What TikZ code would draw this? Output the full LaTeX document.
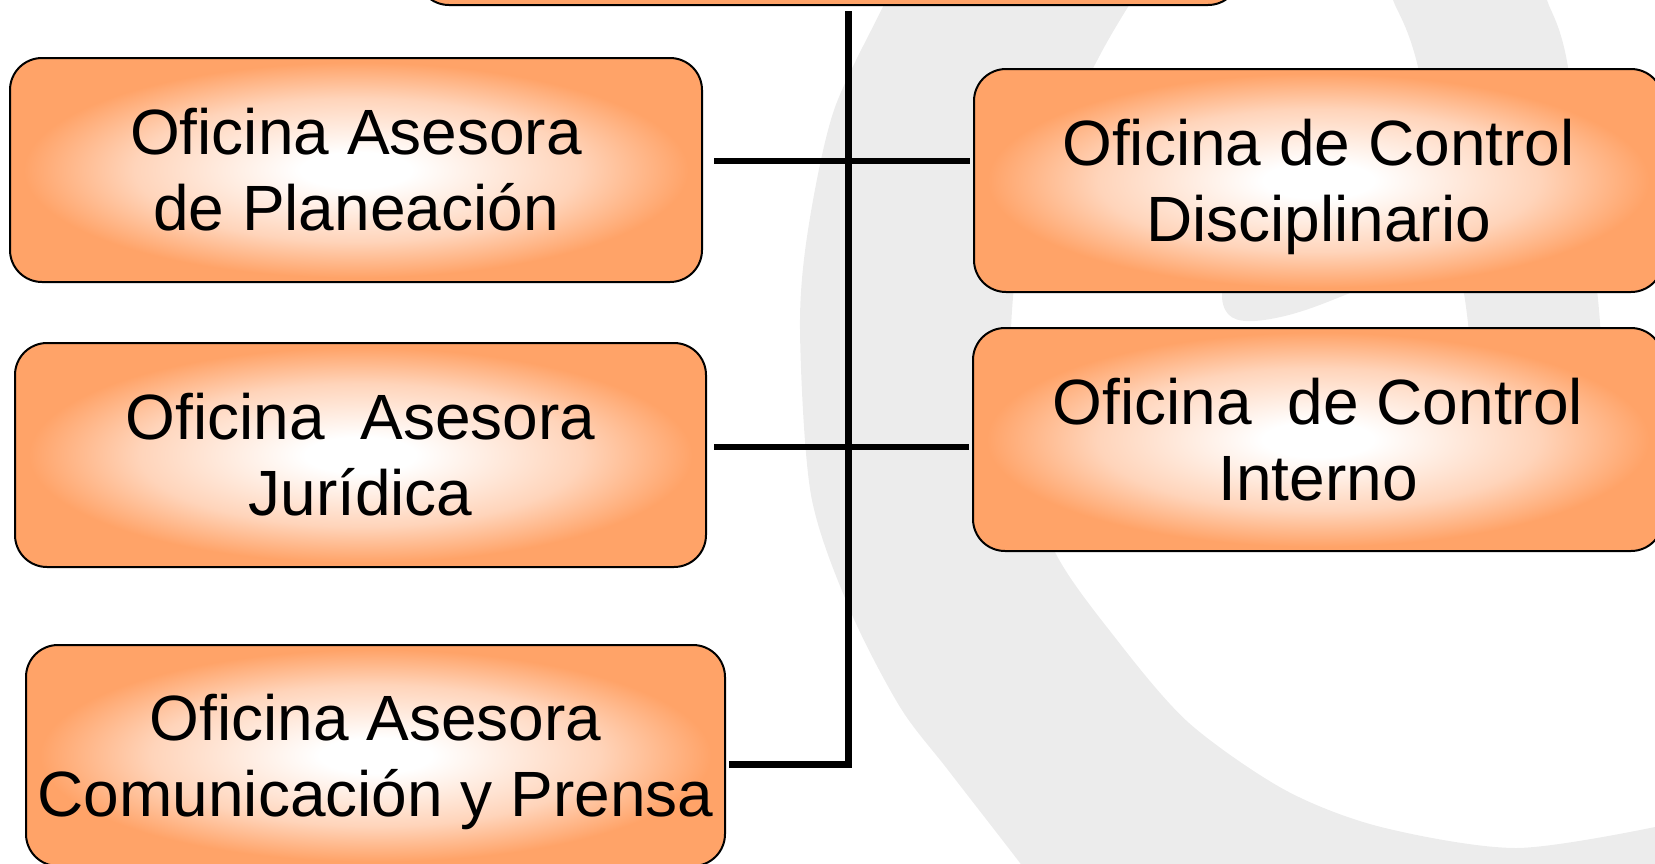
\documentclass[tikz,border=0pt]{standalone}
\usepackage{fontspec}
\setmainfont{Liberation Sans}
\usetikzlibrary{calc}
\definecolor{boxorange}{RGB}{255,163,104}
\definecolor{boxmid}{RGB}{255,212,186}
\definecolor{ringgray}{RGB}{236,236,236}
\pgfdeclareradialshading{boxglow}{\pgfpoint{0bp}{0bp}}{color(0bp)=(white);
  color(4bp)=(white); color(16bp)=(boxmid); color(24bp)=(boxorange);
  color(25bp)=(boxorange); color(50bp)=(boxorange)}

\begin{document}
\begin{tikzpicture}[x=1pt, y=-1pt,
        office/.style={draw, line width=2pt, rounded corners=32pt, shading=boxglow,
          inner sep=0pt, align=center, font=\fontsize{64}{76}\selectfont,
          text height=121pt, text depth=0pt},
        link/.style={line width=6pt},
        spine/.style={line width=7pt}]
        \useasboundingbox (0,0) rectangle (1655,863);
        \clip (0,0) rectangle (1655,863);

        \fill[ringgray] plot[smooth] coordinates {(889,-20) (886,0) (834,110) (808,230)
          (800,330) (811,495) (850,610) (900,707) (948,770) (1020,863) (1035,885)}
          -- (1700,885) -- (1700,815) -- plot[smooth] coordinates {(1655,827) (1516,848)
          (1381,827) (1285,790) (1189,723) (1117,640) (1054,550) (1022,440) (1011,330)
          (1030,200) (1100,55) (1145,-20)} -- cycle;
        \fill[ringgray] plot[smooth] coordinates {(1388,-20) (1393,0) (1418,67) (1465,300)
          (1480,480)} -- plot[smooth] coordinates {(1605,480) (1599,310) (1568,67)
          (1547,0) (1542,-20)} -- cycle;
        \fill[ringgray] (1222,230) -- (1222,298) .. controls (1224,318) and (1236,322) ..
          (1255,321) .. controls (1290,318) and (1320,305) .. (1350,293) -- (1350,230) -- cycle;

        \node[office, minimum width=823pt, minimum height=224pt] (director) at (828.5,-107) {};
        \node[office, minimum width=692pt, minimum height=224pt] (planeacion) at (356,170)
          {Oficina Asesora\\de Planeación};
        \node[office, minimum width=691pt, minimum height=224pt] (juridica) at (360.5,455)
          {Oficina\ \ Asesora\\Jurídica};
        \node[office, minimum width=699pt, minimum height=221pt] (prensa) at (375.5,755.5)
          {Oficina Asesora\\Comunicación y Prensa};
        \node[office, minimum width=689pt, minimum height=223pt] (disciplinario) at (1318.5,180.5)
          {Oficina de Control\\Disciplinario};
        \node[office, minimum width=690pt, minimum height=223pt] (interno) at (1318,439.5)
          {Oficina\ \ de Control\\Interno};

        \coordinate (rowA) at (848.5,160.5);
        \coordinate (rowB) at (848.5,447);
        \coordinate (rowC) at (848.5,764);
        \draw[link] ($(planeacion.east |- rowA)+(11,0)$) -- ($(disciplinario.west |- rowA)+(-3,0)$);
        \draw[link] ($(juridica.east |- rowB)+(7,0)$) -- ($(interno.west |- rowB)+(-3,0)$);
        \draw[spine] ($(director.south -| rowA)+(0,5)$) -- (rowC) -- ($(prensa.east |- rowC)+(3,0)$);
\end{tikzpicture}
\end{document}
